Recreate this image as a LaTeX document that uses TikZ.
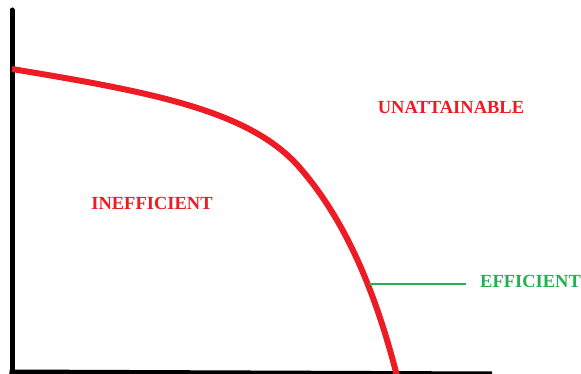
\documentclass[tikz,border=0pt]{standalone}
\usepackage{fontspec}
\setmainfont{Liberation Serif}
\definecolor{pred}{RGB}{237,28,36}
\definecolor{pgreen}{RGB}{34,177,76}
\begin{document}
\begin{tikzpicture}[x=1pt,y=-1pt,
  axis/.style={line width=5pt,black},
  frontier/.style={line width=6pt,pred},
  lbl/.style={font=\fontsize{18.5}{20}\selectfont\bfseries,inner sep=0pt},
  leader/.style={line width=1.3pt,pgreen}]
\useasboundingbox (0,0) rectangle (581,374);
\coordinate (top) at (12,10);
\coordinate (origin) at (12,374);
\coordinate (xend) at (492,374);
\draw[axis,line cap=round] (top) -- (origin);
\draw[axis] (9.5,372) -- (xend);
\coordinate (fstart) at (12,69);
\coordinate (fmid) at (300,168);
\coordinate (fend) at (397,376);
\draw[frontier] (fstart) .. controls (150,92) and (250,110) .. (fmid)
  .. controls (345,220) and (375,290) .. (fend);
\node[lbl,pred] (un) at (451,107) {UNATTAINABLE};
\node[lbl,pred] (in) at (152,203) {INEFFICIENT};
\node[lbl,pgreen,anchor=west] (ef) at (480,281) {EFFICIENT};
\coordinate (pt) at (369,284);
\coordinate (lend) at (466,284);
\draw[leader] (pt) -- (lend);
\end{tikzpicture}
\end{document}
